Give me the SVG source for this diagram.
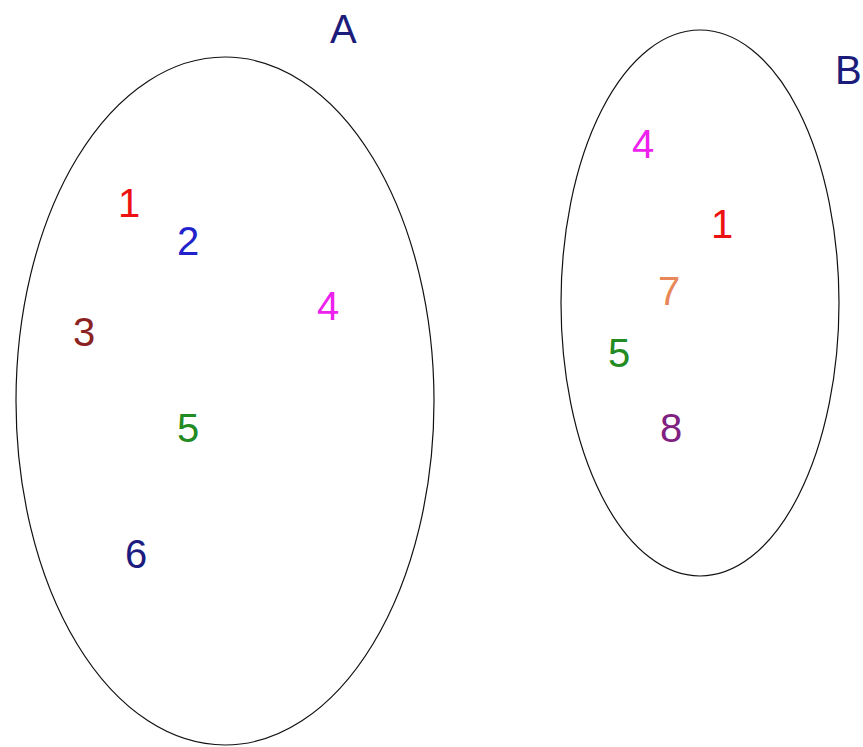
<svg xmlns="http://www.w3.org/2000/svg" width="863" height="747" viewBox="0 0 863 747">
<style>
.set{fill:none;stroke:#111;stroke-width:1.2}
text{font-family:"Liberation Sans",Arial,sans-serif;font-size:40px;text-anchor:middle}
.lbl{fill:#1c1c7a;text-anchor:start}
</style>
<rect width="863" height="747" fill="#fff"/>
<g id="setA">
<ellipse class="set" cx="225" cy="401" rx="209" ry="344"/>
<text class="lbl" x="330" y="43">A</text>
</g>
<g id="setB">
<ellipse class="set" cx="700" cy="303" rx="139" ry="273"/>
<text class="lbl" x="835" y="84">B</text>
</g>
<g id="elementsA">
<text x="129" y="217" fill="#ee1111">1</text>
<text x="188" y="255" fill="#2222cc">2</text>
<text x="84" y="346" fill="#8b2222">3</text>
<text x="328" y="320" fill="#ee22ee">4</text>
<text x="188" y="442" fill="#228b22">5</text>
<text x="136" y="568" fill="#1c1c80">6</text>
</g>
<g id="elementsB">
<text x="643" y="158" fill="#ee22ee">4</text>
<text x="722" y="238" fill="#ee1111">1</text>
<text x="669" y="305" fill="#e8885a">7</text>
<text x="619" y="367" fill="#228b22">5</text>
<text x="671" y="442" fill="#802080">8</text>
</g>
<g id="connectors"></g>
</svg>
